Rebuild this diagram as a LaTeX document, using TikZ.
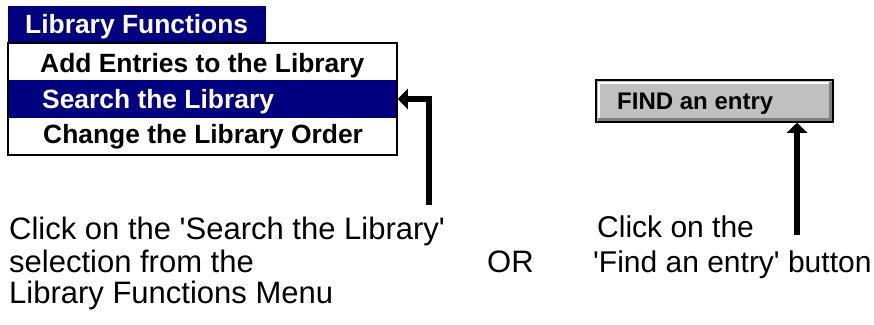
\documentclass[tikz,border=0pt]{standalone}
\usepackage{fontspec}
\setmainfont{Liberation Sans}
\usetikzlibrary{arrows.meta}
\definecolor{navy}{RGB}{0,0,128}
\definecolor{btngray}{RGB}{192,192,192}
\definecolor{btnshadow}{RGB}{128,128,128}
\begin{document}
\begin{tikzpicture}[x=1pt,y=-1pt,
  txt/.style={inner sep=0pt,anchor=base west,font=\fontsize{31}{32}\selectfont},
  rtxt/.style={inner sep=0pt,anchor=base west,font=\fontsize{30}{32}\selectfont},
  menutxt/.style={inner sep=0pt,anchor=base west,font=\fontsize{26.4}{28}\selectfont\bfseries},
  arr/.style={line width=6pt,-{Triangle[length=10pt,width=20pt]}}]
\useasboundingbox (0,0) rectangle (874,324);
% menu
\node[fill=navy,inner sep=0pt,minimum width=258pt,minimum height=37pt] (header) at (137,24.5) {};
\node[fill=navy,inner sep=0pt,minimum width=387pt,minimum height=38pt] (hl) at (202.5,99) {};
\node[draw=black,line width=1.5pt,inner sep=0pt,minimum width=389pt,minimum height=112pt] (menu) at (202.5,99) {};
\node[menutxt,text=white] (htext) at (25,33) {Library Functions};
\node[menutxt] (i1) at (40,72) {Add Entries to the Library};
\node[menutxt,text=white] (i2) at (42,108) {Search the Library};
\node[menutxt] (i3) at (43,143) {Change the Library Order};
% button
\node[fill=btngray,draw=black,line width=1.5pt,inner sep=0pt,minimum width=237pt,minimum height=42pt] (btn) at (714.5,101) {};
\draw[white,line width=2pt] (598.5,119.5) -- (598.5,82.5) -- (830.5,82.5);
\draw[btnshadow,line width=2.5pt] (598,119.5) -- (830.5,119.5) -- (830.5,82);
\node[inner sep=0pt,anchor=base west,font=\fontsize{24}{26}\selectfont\bfseries] (btext) at (617,109) {FIND an entry};
% arrows
\coordinate (a1) at (429,205);
\draw[arr] (a1) |- (menu.east);
\coordinate (a2) at (797,235);
\draw[arr] (a2) -- (a2 |- btn.south);
% texts
\node[txt] (t1) at (9,239) {Click on the \textquotesingle Search the Library\textquotesingle};
\node[txt] (t2) at (9,272) {selection from the};
\node[txt] (t3) at (9,303) {Library Functions Menu};
\node[txt] (or) at (487,272) {OR};
\node[rtxt] (r1) at (597,237) {Click on the};
\node[rtxt] (r2) at (593,272) {\textquotesingle Find an entry\textquotesingle{} button};
\end{tikzpicture}
\end{document}
